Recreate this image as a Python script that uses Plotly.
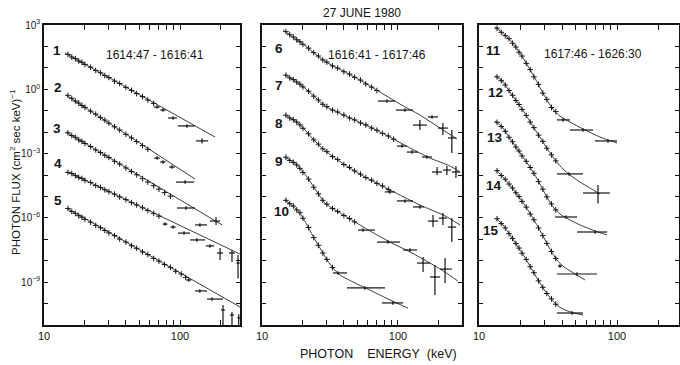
import plotly.graph_objects as go

# ---------------- data (energies in keV, flux as log10 of photons/(cm2 s keV)) ----------------
E_dense_p1 = [15, 16, 17, 18, 19, 20, 22, 24, 26, 28, 30, 33, 36, 40, 44, 48, 53, 58, 64, 70, 77, 85, 93, 102, 110]
E_dense_p2 = [15, 16, 17, 18, 19, 20, 22, 24, 26, 28, 30, 33, 36, 40, 44, 48, 53, 58, 64, 70, 77, 85, 93]
E_dense_p3 = [13.5, 14.5, 15.5, 16.5, 17.5, 18.5, 19.5, 20.5, 22, 23.5, 25, 27, 29, 31, 33.5, 36]

# dense data points (log10 flux), aligned with the first N energies of the panel list
s1_L = [1.63, 1.50, 1.43, 1.32, 1.26, 1.16, 1.03, 0.88, 0.77, 0.64, 0.55, 0.38, 0.27, 0.09, -0.05, -0.20, -0.34, -0.50, -0.66]
s2_L = [-0.28, -0.42, -0.55, -0.64, -0.76, -0.84, -1.02, -1.16, -1.32, -1.44, -1.58, -1.75, -1.90, -2.10, -2.27, -2.44, -2.63, -2.80]
s3_L = [-2.03, -2.16, -2.24, -2.36, -2.43, -2.53, -2.67, -2.83, -2.95, -3.08, -3.18, -3.36, -3.49, -3.67, -3.84, -3.99, -4.17, -4.33, -4.50, -4.66, -4.82, -4.99]
s4_L = [-3.88, -3.93, -4.03, -4.11, -4.16, -4.25, -4.35, -4.49, -4.58, -4.69, -4.78, -4.89, -5.02, -5.15, -5.29, -5.40, -5.53, -5.66, -5.79, -5.92]
s5_L = [-5.56, -5.70, -5.79, -5.90, -5.97, -6.07, -6.20, -6.35, -6.46, -6.59, -6.70, -6.83, -6.99, -7.13, -7.30, -7.42, -7.59, -7.71, -7.89, -8.02, -8.18, -8.31, -8.49, -8.62, -8.78]
s6_L = [2.69, 2.55, 2.44, 2.31, 2.22, 2.10, 1.92, 1.71, 1.55, 1.37, 1.27, 1.09, 0.99, 0.82, 0.71, 0.56, 0.43, 0.25, 0.10, -0.06]
s7_L = [0.66, 0.53, 0.45, 0.34, 0.24, 0.11, -0.09, -0.32, -0.50, -0.70, -0.81, -0.97, -1.06, -1.20, -1.34, -1.43, -1.57, -1.66, -1.81, -1.91, -2.06, -2.18, -2.33]
s8_L = [-1.21, -1.34, -1.42, -1.53, -1.66, -1.82, -2.08, -2.36, -2.56, -2.78, -2.91, -3.14, -3.28, -3.51, -3.65, -3.81, -3.96, -4.12, -4.24, -4.39, -4.51, -4.67]
s9_L = [-3.17, -3.32, -3.41, -3.53, -3.69, -3.88, -4.19, -4.57, -4.88, -5.18, -5.36, -5.56, -5.70, -5.89, -6.03, -6.19]
s10_L = [-5.18, -5.34, -5.45, -5.63, -5.76, -6.02, -6.45, -6.92, -7.28, -7.64, -7.94, -8.32]
s11_L = [2.85, 2.66, 2.50, 2.36, 2.15, 1.97, 1.73, 1.55, 1.21, 0.92, 0.58, 0.23, -0.18, -0.47, -0.85, -1.04]
s12_L = [0.58, 0.40, 0.20, -0.06, -0.28, -0.52, -0.71, -0.94, -1.22, -1.53, -1.79, -2.14, -2.43, -2.75, -3.06, -3.34]
s13_L = [-1.54, -1.74, -1.96, -2.24, -2.45, -2.69, -2.88, -3.11, -3.36, -3.65, -3.92, -4.31, -4.66, -5.02, -5.35, -5.63]
s14_L = [-3.80, -4.02, -4.20, -4.42, -4.61, -4.83, -5.01, -5.23, -5.50, -5.82, -6.09, -6.47, -6.83, -7.19, -7.57, -7.89]
s15_L = [-6.04, -6.27, -6.47, -6.74, -6.96, -7.20, -7.41, -7.65, -7.94, -8.28, -8.56, -8.94, -9.24, -9.53, -9.78, -10.03]

# wide-bin points: (E, E_low, E_high, logF, logF_low, logF_high)
s1_cross = [(67.8, 64.5, 71, -0.83, -0.91, -0.75), (75, 71.5, 78.5, -0.97, -1.05, -0.89),
            (88.9, 81.7, 95, -1.34, -1.42, -1.26), (112.5, 96.6, 129, -1.71, -1.79, -1.63),
            (145, 131, 161, -2.41, -2.53, -2.29)]
s2_cross = [(67.8, 64.5, 71, -3.21, -3.29, -3.13), (75, 71.5, 78.5, -3.39, -3.47, -3.31),
            (87.3, 83, 91.5, -3.63, -3.71, -3.55), (109, 93.5, 127, -4.33, -4.41, -4.25)]
s3_cross = [(110.6, 95, 129, -5.54, -5.62, -5.46), (140, 129, 158, -6.33, -6.41, -6.25),
            (184, 166, 197, -6.15, -6.33, -5.96)]
s4_cross = [(77.6, 74.5, 81, -6.29, -6.37, -6.21), (88.9, 85, 93, -6.43, -6.51, -6.35),
            (107, 96.6, 118.5, -6.71, -6.79, -6.63), (133, 118.5, 153, -7.03, -7.11, -6.95),
            (166, 155, 178, -7.31, -7.39, -7.23), (197, 187, 207, -7.64, -7.97, -7.41),
            (241, 229, 253, -7.64, -8.06, -7.50), (267, 260, 275, -8.11, -8.83, -7.73)]
s5_cross = [(116, 111, 121, -8.90, -8.98, -8.82), (140, 129, 158, -9.41, -9.49, -9.33),
            (172, 158, 207, -9.79, -9.87, -9.71), (207, 200, 214, -10.30, -11.0, -10.07),
            (241, 233, 249, -10.53, -11.0, -10.39), (270, 264, 276, -10.67, -11.0, -10.50)]
s6_cross = [(83, 71.3, 95, -0.55, -0.63, -0.47), (112.5, 96.6, 129, -0.97, -1.05, -0.89),
            (145, 129, 163, -1.67, -1.90, -1.43), (178, 166, 197, -1.29, -1.37, -1.21),
            (214, 197, 233, -1.81, -2.13, -1.57), (249, 233, 267, -2.27, -2.97, -1.90)]
s7_cross = [(107, 98.4, 116, -2.65, -2.73, -2.57), (127, 116, 140, -2.93, -3.01, -2.85),
            (163, 150, 178, -3.16, -3.24, -3.08), (194, 178, 211, -3.86, -4.00, -3.63),
            (229, 214, 245, -3.77, -4.00, -3.58), (267, 249, 286, -3.86, -4.14, -3.58)]
s8_cross = [(87.3, 80, 95, -4.79, -4.87, -4.71), (112.5, 98.4, 129, -5.21, -5.29, -5.13),
            (145, 129, 155, -5.49, -5.57, -5.41), (181, 166, 197, -6.15, -6.43, -5.87),
            (214, 200, 229, -6.01, -6.33, -5.77), (249, 233, 267, -6.43, -7.13, -6.01)]
s9_cross = [(55.3, 50.8, 67.8, -6.57, -6.65, -6.49), (84.4, 70.2, 103.5, -7.13, -7.21, -7.05),
            (122.5, 109, 138, -7.50, -7.58, -7.42), (153, 138, 172, -8.11, -8.53, -7.83),
            (187, 172, 204, -8.76, -9.60, -8.20), (222, 204, 249, -8.39, -9.04, -7.87)]
s10_cross = [(36.2, 33.3, 42.2, -8.57, -8.65, -8.49), (57.1, 42.2, 80.2, -9.27, -9.35, -9.19),
             (91.8, 76.2, 109, -9.97, -10.05, -9.89)]
s11_cross = [(40.6, 36.7, 45.6, -1.43, -1.51, -1.35), (56.7, 45.6, 67, -1.90, -1.98, -1.82),
             (86, 69.3, 100, -2.41, -2.49, -2.33)]
s12_cross = [(44.9, 36.7, 56.7, -3.95, -4.03, -3.87), (72.8, 56.7, 88.9, -4.84, -5.33, -4.47)]
s13_cross = [(42.7, 35.6, 51.3, -5.96, -6.04, -5.88), (69.3, 51.3, 84.8, -6.66, -6.74, -6.58)]
s14_cross = [(38.6, 37.3, 40, -8.25, -8.33, -8.17), (51.3, 36.7, 71.6, -8.62, -8.70, -8.54)]
s15_cross = [(47.2, 36.7, 56.7, -10.44, -10.52, -10.36)]

# fitted model curves: energies and log10 flux
fit1_E, fit1_L = [14.3, 181], [1.69, -2.23]
fit2_E, fit2_L = [14.5, 129], [-0.27, -4.19]
fit3_E, fit3_L = [14.5, 204], [-1.99, -6.33]
fit4_E, fit4_L = [15.0, 276], [-3.86, -7.69]
fit5_E, fit5_L = [14.8, 276], [-5.56, -10.16]
fit6_E = [14.3, 16.9, 20.0, 23.7, 28.1, 33.3, 40.8, 52.6, 73.8, 103.5, 145, 204, 272]
fit6_L = [2.77, 2.44, 2.11, 1.74, 1.37, 1.09, 0.81, 0.43, -0.13, -0.69, -1.20, -1.81, -2.32]
fit7_E = [14.8, 18.1, 21.4, 25.4, 29.0, 35.6, 44.4, 62.2, 87.3, 122.5, 172, 241, 286]
fit7_L = [0.67, 0.34, -0.03, -0.45, -0.78, -1.06, -1.34, -1.76, -2.23, -2.74, -3.21, -3.58, -3.86]
fit8_E = [14.8, 18.1, 20.7, 23.7, 27.6, 32.7, 40.8, 57.1, 87.3, 145, 222, 286]
fit8_L = [-1.20, -1.53, -1.90, -2.32, -2.74, -3.11, -3.53, -4.09, -4.70, -5.40, -5.91, -6.33]
fit9_E = [14.8, 18.1, 21.4, 25.4, 29.0, 34.4, 44.4, 62.2, 87.3, 122.5, 172, 222, 276]
fit9_L = [-3.16, -3.53, -4.09, -4.79, -5.31, -5.63, -6.05, -6.61, -7.13, -7.59, -8.11, -8.53, -8.95]
fit10_E = [14.8, 16.9, 19.0, 21.4, 23.7, 26.7, 30.1, 33.3, 37.5, 48.3, 62.2, 87.3, 118.5]
fit10_L = [-5.17, -5.45, -5.77, -6.33, -6.85, -7.41, -7.97, -8.34, -8.67, -9.04, -9.37, -9.83, -10.21]
fit11_E = [13.1, 15.4, 17.3, 19.8, 22.6, 25.9, 29.6, 33.8, 38.6, 45.6, 56.7, 75.4, 100]
fit11_L = [2.91, 2.53, 2.21, 1.69, 1.09, 0.43, -0.27, -0.87, -1.25, -1.53, -1.85, -2.23, -2.51]
fit12_E = [13.1, 14.7, 16.2, 18.2, 20.5, 23.0, 25.9, 29.1, 32.7, 36.1, 40.6, 45.6, 53.9, 63.7, 75.4]
fit12_L = [0.62, 0.39, 0.01, -0.45, -0.92, -1.43, -1.95, -2.46, -2.97, -3.35, -3.72, -4.00, -4.33, -4.61, -4.89]
fit13_E = [13.1, 14.7, 16.5, 18.5, 20.8, 23.4, 25.9, 28.6, 31.6, 34.9, 38.6, 44.2, 53.9, 69.3, 84.8]
fit13_L = [-1.48, -1.76, -2.23, -2.69, -3.16, -3.63, -4.09, -4.61, -5.12, -5.54, -5.82, -6.05, -6.33, -6.61, -6.80]
fit14_E = [13.3, 14.9, 16.8, 18.8, 21.2, 23.8, 26.8, 30.1, 33.3, 36.7, 41.3, 47.2, 58.6]
fit14_L = [-3.77, -4.09, -4.47, -4.89, -5.35, -5.87, -6.43, -7.03, -7.55, -7.97, -8.29, -8.53, -8.90]
fit15_E = [13.5, 14.9, 16.8, 18.8, 21.2, 23.8, 26.8, 30.1, 33.8, 37.3, 42.0, 48.8, 56.7]
fit15_L = [-6.05, -6.33, -6.80, -7.27, -7.78, -8.34, -8.90, -9.41, -9.83, -10.11, -10.30, -10.44, -10.53]

panel_titles = ["1614:47 - 1616:41", "1616:41 - 1617:46", "1617:46 - 1626:30"]
spectrum_labels = [str(i) for i in range(1, 16)]
x_tickvals = [10, 20, 30, 40, 50, 60, 70, 80, 90, 100, 200, 300]
x_labelled = {10: "10", 100: "100"}
y_decades = list(range(-11, 4))
y_labelled = {3: "10<sup>3</sup>", 0: "10<sup>0</sup>", -3: "10<sup>−3</sup>", -6: "10<sup>−6</sup>", -9: "10<sup>−9</sup>"}

# ---------------- figure ----------------
W, H = 680, 365
INK = "#141414"
FONT = "Liberation Sans"

spectra = [
    (1, E_dense_p1, s1_L, s1_cross, fit1_E, fit1_L), (1, E_dense_p1, s2_L, s2_cross, fit2_E, fit2_L),
    (1, E_dense_p1, s3_L, s3_cross, fit3_E, fit3_L), (1, E_dense_p1, s4_L, s4_cross, fit4_E, fit4_L),
    (1, E_dense_p1, s5_L, s5_cross, fit5_E, fit5_L),
    (2, E_dense_p2, s6_L, s6_cross, fit6_E, fit6_L), (2, E_dense_p2, s7_L, s7_cross, fit7_E, fit7_L),
    (2, E_dense_p2, s8_L, s8_cross, fit8_E, fit8_L), (2, E_dense_p2, s9_L, s9_cross, fit9_E, fit9_L),
    (2, E_dense_p2, s10_L, s10_cross, fit10_E, fit10_L),
    (3, E_dense_p3, s11_L, s11_cross, fit11_E, fit11_L), (3, E_dense_p3, s12_L, s12_cross, fit12_E, fit12_L),
    (3, E_dense_p3, s13_L, s13_cross, fit13_E, fit13_L), (3, E_dense_p3, s14_L, s14_cross, fit14_E, fit14_L),
    (3, E_dense_p3, s15_L, s15_cross, fit15_E, fit15_L),
]

fig = go.Figure()
for p, Ed, Ld, cross, fE, fL in spectra:
    xa = "x" if p == 1 else f"x{p}"
    ya = "y" if p == 1 else f"y{p}"
    fig.add_trace(go.Scatter(x=fE, y=[10 ** v for v in fL], mode="lines",
                             line=dict(color="#262626", width=0.9, shape="spline", smoothing=0.6),
                             xaxis=xa, yaxis=ya, hoverinfo="skip", showlegend=False))
    fig.add_trace(go.Scatter(x=Ed[:len(Ld)], y=[10 ** v for v in Ld], mode="markers",
                             marker=dict(symbol="cross-thin", size=4, line=dict(width=1, color=INK)),
                             xaxis=xa, yaxis=ya, hoverinfo="skip", showlegend=False))
    if cross:
        cE = [c[0] for c in cross]
        cF = [10 ** c[3] for c in cross]
        fig.add_trace(go.Scatter(
            x=cE, y=cF, mode="markers", marker=dict(size=1, color=INK),
            error_x=dict(type="data", symmetric=False, array=[c[2] - c[0] for c in cross],
                         arrayminus=[c[0] - c[1] for c in cross], width=0, thickness=1.2, color=INK),
            error_y=dict(type="data", symmetric=False, array=[10 ** c[5] - 10 ** c[3] for c in cross],
                         arrayminus=[10 ** c[3] - 10 ** c[4] for c in cross], width=0, thickness=1.2, color=INK),
            xaxis=xa, yaxis=ya, hoverinfo="skip", showlegend=False))

px = lambda v: v / W
py = lambda v: 1 - v / H
x_domains = [(44, 240), (262, 462), (479, 679)]
x_ranges = [[1, 2.441], [1, 2.471], [1, 2.449]]
y_dom = [py(325), py(25)]

for i in range(3):
    sfx = "" if i == 0 else str(i + 1)
    fig.layout["xaxis" + sfx] = dict(
        type="log", domain=[px(x_domains[i][0]), px(x_domains[i][1])], range=x_ranges[i],
        anchor="y" + sfx, showline=True, linecolor=INK, linewidth=1.6, mirror="ticks",
        ticks="inside", ticklen=5, tickwidth=1.1, tickcolor=INK,
        tickmode="array", tickvals=x_tickvals, ticktext=[x_labelled.get(v, "") for v in x_tickvals],
        tickfont=dict(family=FONT, size=11, color=INK),
        showgrid=False, zeroline=False, automargin=False, fixedrange=True)
    fig.layout["yaxis" + sfx] = dict(
        type="log", domain=y_dom, range=[-11, 3], anchor="x" + sfx,
        showline=True, linecolor=INK, linewidth=1.6, mirror="ticks",
        ticks="inside", ticklen=4.5, tickwidth=1.1, tickcolor=INK,
        tickmode="array", tickvals=[10.0 ** k for k in y_decades],
        ticktext=[y_labelled.get(k, "") for k in y_decades],
        showticklabels=(i == 0), tickfont=dict(family=FONT, size=10, color=INK),
        showgrid=False, zeroline=False, automargin=False, fixedrange=True)

ann = []
def label(x, y, text, size=12, bold=False, angle=0):
    ann.append(dict(x=px(x), y=py(y), xref="paper", yref="paper", text=(f"<b>{text}</b>" if bold else text),
                    showarrow=False, textangle=angle, xanchor="center", yanchor="middle",
                    font=dict(family=FONT, size=size, color=INK)))

label(362, 13, "27 JUNE 1980", 12)
label(378, 354, "PHOTON\u00a0\u00a0\u00a0\u00a0ENERGY\u00a0\u00a0(keV)", 12.5)
label(15, 172, "PHOTON FLUX (cm<sup>2</sup> sec keV)<sup>−1</sup>", 11.5, angle=-90)
for (x, y), t in zip([(155, 55), (377, 55), (593, 54)], panel_titles):
    label(x, y, t, 12)
num_pos = [(57, 50), (58, 87), (57, 128), (58, 163), (58, 200),
           (279, 48), (279, 85), (279, 123), (279, 162), (281, 212),
           (493, 50), (495, 93), (495, 137), (494, 185), (491, 231)]
for (x, y), t in zip(num_pos, spectrum_labels):
    label(x, y, t, 13.5, bold=True)

fig.update_layout(width=W, height=H, margin=dict(l=0, r=0, t=0, b=0), autosize=False,
                  template="none", paper_bgcolor="white", plot_bgcolor="white",
                  showlegend=False, annotations=ann)
fig.write_html("out.html")
